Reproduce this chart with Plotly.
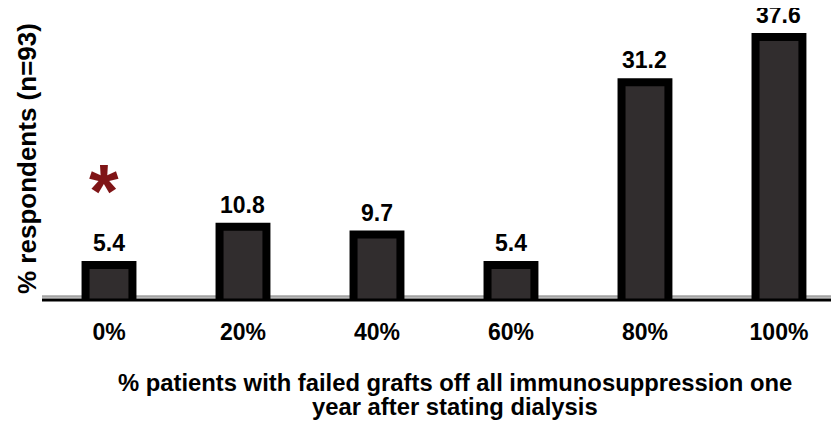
import plotly.graph_objects as go

categories = ["0%", "20%", "40%", "60%", "80%", "100%"]
values = [5.4, 10.8, 9.7, 5.4, 31.2, 37.6]
value_labels = ["5.4", "10.8", "9.7", "5.4", "31.2", "37.6"]
y_title = "% respondents (n=93)"
x_title_lines = ["% patients with failed grafts off all immunosuppression one",
                 "year after stating dialysis"]

# page has an 8px body margin, so the figure is a bit smaller than the window
W, H = 831, 420
ml, mr, mt, mb = 34, 0, 12, 128
plot_w = W - ml - mr
plot_h = H - mt - mb
px_per_unit = 7.08
y0 = 0.45
y1 = y0 + plot_h / px_per_unit

FONT = "Liberation Sans, Arial, sans-serif"

fig = go.Figure()
fig.add_trace(go.Bar(
    x=list(range(len(categories))),
    y=values,
    width=0.35,
    marker=dict(color="#312d2e", line=dict(color="#000000", width=8)),
    hoverinfo="skip",
))

for i, (v, t) in enumerate(zip(values, value_labels)):
    fig.add_annotation(x=i, y=v, text=f"<b>{t}</b>", showarrow=False,
                       yanchor="bottom", yshift=7,
                       font=dict(family=FONT, size=23, color="#000000"))

# asterisk over the first bar
fig.add_annotation(x=0, y=values[0], text="<b>*</b>", showarrow=False,
                   xshift=-5, yshift=74, yanchor="middle",
                   font=dict(family=FONT, size=76, color="#7f1416"))

# baseline lines
fig.add_shape(type="line", xref="paper", yref="y", x0=0, x1=1, y0=0.95, y1=0.95,
              line=dict(color="#a3a3a3", width=2.5), layer="below")
fig.add_shape(type="line", xref="paper", yref="paper", x0=0, x1=1, y0=0, y1=0,
              line=dict(color="#000000", width=3), layer="above")

# x axis title (two lines)
for line_text, yc in zip(x_title_lines, [374, 398]):
    fig.add_annotation(xref="paper", yref="paper",
                       x=(447 - ml) / plot_w, y=-(yc - (H - mb)) / plot_h,
                       text=f"<b>{line_text}</b>", showarrow=False,
                       xanchor="center", yanchor="middle",
                       font=dict(family=FONT, size=23.8, color="#000000"))

# y axis title
fig.add_annotation(xref="paper", yref="paper",
                   x=-(ml - 19) / plot_w, y=(H - mb - 151) / plot_h,
                   text=f"<b>{y_title}</b>", showarrow=False, textangle=-90,
                   xanchor="center", yanchor="middle",
                   font=dict(family=FONT, size=26, color="#000000"))

fig.update_layout(
    width=W, height=H,
    margin=dict(l=ml, r=mr, t=mt, b=mb),
    plot_bgcolor="#ffffff", paper_bgcolor="#ffffff",
    showlegend=False,
    xaxis=dict(tickmode="array", tickvals=list(range(len(categories))),
               ticktext=[f"<b>{c}</b>" for c in categories],
               range=[-0.5, 5.448], showgrid=False, zeroline=False, showline=False,
               ticks="", ticklabelstandoff=16,
               tickfont=dict(family=FONT, size=23, color="#000000")),
    yaxis=dict(range=[y0, y1], showgrid=False, zeroline=False, showline=False,
               showticklabels=False, ticks=""),
)

fig.write_html("out.html")
